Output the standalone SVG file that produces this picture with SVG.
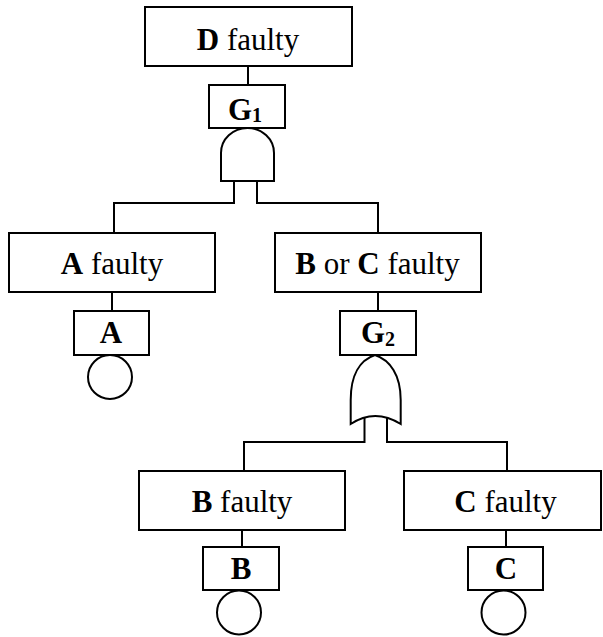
<svg xmlns="http://www.w3.org/2000/svg" width="603" height="637" viewBox="0 0 603 637">
<style>
.box{fill:#fff;stroke:#000;stroke-width:2}
.gate{fill:#fff;stroke:#000;stroke-width:2;stroke-linejoin:miter}
.ln{fill:none;stroke:#000;stroke-width:2}
.t{font-family:"Liberation Serif","Times New Roman",serif;font-size:31px;fill:#000;text-anchor:middle}
.b{font-weight:bold}
.sub{font-size:20px;font-weight:bold}
</style>
<rect width="603" height="637" fill="#fff"/>
<g id="connectors">
<path class="ln" d="M248,66 V85"/>
<path class="ln" d="M234,181 V203 H114 V233"/>
<path class="ln" d="M257,181 V203 H378 V233"/>
<path class="ln" d="M112,292 V311"/>
<path class="ln" d="M378,292 V311"/>
<path class="ln" d="M364.5,418 V442 H244 V471"/>
<path class="ln" d="M387,418 V442 H507 V471"/>
<path class="ln" d="M242,530 V547"/>
<path class="ln" d="M506,530 V547"/>
</g>
<g id="D_faulty">
<rect class="box" x="145" y="7" width="207" height="59"/>
<text class="t" x="248" y="50"><tspan class="b">D</tspan> faulty</text>
</g>
<g id="G1">
<rect class="box" x="209" y="85" width="76" height="43"/>
<text class="t" x="245" y="120"><tspan class="b">G</tspan><tspan class="sub" dy="2">1</tspan></text>
</g>
<g id="AND_gate">
<path class="gate" d="M221,181 V153 A26.5,25 0 0 1 274,153 V181 Z"/>
</g>
<g id="A_faulty">
<rect class="box" x="9" y="233" width="206" height="59"/>
<text class="t" x="112" y="274"><tspan class="b">A</tspan> faulty</text>
</g>
<g id="A">
<rect class="box" x="74" y="311" width="75" height="44"/>
<text class="t b" x="111" y="343">A</text>
</g>
<g id="A_event">
<circle class="box" cx="110" cy="377" r="22"/>
</g>
<g id="BC_faulty">
<rect class="box" x="275" y="233" width="206" height="59"/>
<text class="t" x="377.5" y="274"><tspan class="b">B</tspan> or <tspan class="b">C</tspan> faulty</text>
</g>
<g id="G2">
<rect class="box" x="340" y="311" width="76" height="44"/>
<text class="t" x="378" y="343"><tspan class="b">G</tspan><tspan class="sub" dy="3">2</tspan></text>
</g>
<g id="OR_gate">
<path class="gate" d="M350.7,424 L350.7,400 C350.7,375 360,360 375,355 C390,360 400.7,375 400.7,400 L400.7,424 Q375,408 350.7,424 Z"/>
</g>
<g id="B_faulty">
<rect class="box" x="139" y="471" width="206" height="59"/>
<text class="t" x="242" y="512"><tspan class="b">B</tspan> faulty</text>
</g>
<g id="B">
<rect class="box" x="203" y="547" width="76" height="43"/>
<text class="t b" x="241" y="579">B</text>
</g>
<g id="B_event">
<circle class="box" cx="239" cy="612.5" r="22"/>
</g>
<g id="C_faulty">
<rect class="box" x="404" y="471" width="197" height="59"/>
<text class="t" x="505.5" y="512"><tspan class="b">C</tspan> faulty</text>
</g>
<g id="C">
<rect class="box" x="468" y="547" width="75" height="43"/>
<text class="t b" x="506" y="579">C</text>
</g>
<g id="C_event">
<circle class="box" cx="503.5" cy="612.5" r="22"/>
</g>
</svg>
